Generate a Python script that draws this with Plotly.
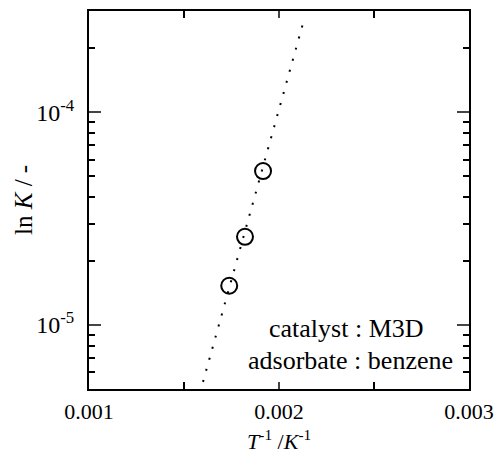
import plotly.graph_objects as go
import numpy as np

# data
inv_T = [0.001738, 0.001821, 0.001916]
K_vals = [1.53e-5, 2.6e-5, 5.3e-5]
fit_x = [0.001600, 0.002125]
fit_y = [5.4e-6, 2.6e-4]

x_tickvals = [0.001, 0.002, 0.003]
x_ticktext = ["0.001", "0.002", "0.003"]
x_minor = [0.0015, 0.0025]
y_tickvals = [1e-5, 1e-4]
y_ticktext = ["10<sup>-5</sup>", "10<sup>-4</sup>"]
y_minor = [6e-6, 7e-6, 8e-6, 9e-6] + [k * 1e-5 for k in range(2, 10)] + [2e-4]

FONT = "Liberation Serif"

fig = go.Figure()
fig.add_trace(go.Scatter(x=fit_x, y=fit_y, mode="lines",
                         line=dict(color="black", width=2, dash="2px,9.5px"),
                         showlegend=False, hoverinfo="skip"))
fig.add_trace(go.Scatter(x=inv_T, y=K_vals, mode="markers",
                         marker=dict(symbol="circle-open", size=16, color="black",
                                     line=dict(width=2, color="black")),
                         showlegend=False))

fig.update_layout(
    width=504, height=455,
    margin=dict(l=89, r=35, t=9, b=66),
    paper_bgcolor="white", plot_bgcolor="white",
    font=dict(family=FONT, size=24, color="black"),
    xaxis=dict(range=[0.001, 0.003], tickmode="array", tickvals=x_tickvals,
               ticktext=x_ticktext, ticks="inside", ticklen=7, tickwidth=1.5,
               minor=dict(tickvals=x_minor, ticks="inside", ticklen=7, tickwidth=1.5,
                          tickcolor="black"),
               showline=True, linewidth=2, linecolor="black", mirror="ticks",
               showgrid=False, zeroline=False, tickfont=dict(size=22),
               ticklabelstandoff=2),
    yaxis=dict(type="log", range=[np.log10(5e-6), np.log10(3e-4)],
               tickmode="array", tickvals=y_tickvals, ticktext=y_ticktext,
               ticks="inside", ticklen=12, tickwidth=1.5,
               minor=dict(tickvals=y_minor, ticks="inside", ticklen=6, tickwidth=1.5,
                          tickcolor="black"),
               showline=True, linewidth=2, linecolor="black", mirror="ticks",
               showgrid=False, zeroline=False, tickfont=dict(size=24),
               ticklabelstandoff=8),
)

fig.add_annotation(text="ln <i>K</i> / -", xref="paper", yref="paper",
                   x=(23 - 89) / 380, y=0.5, textangle=-90, showarrow=False,
                   font=dict(size=25), xanchor="center", yanchor="middle")
fig.add_annotation(text="<i>T</i><sup>-1</sup> /<i>K</i><sup>-1</sup>", xref="paper", yref="paper",
                   x=0.5, y=-(440 - 389) / 380, showarrow=False, borderpad=0,
                   font=dict(size=22), xanchor="center", yanchor="middle")
fig.add_annotation(text="catalyst : M3D", xref="paper", yref="paper",
                   x=(346 - 89) / 380, y=(389 - 328) / 380, showarrow=False,
                   font=dict(size=26), xanchor="center", yanchor="middle")
fig.add_annotation(text="adsorbate : benzene", xref="paper", yref="paper",
                   x=(350 - 89) / 380, y=(389 - 360) / 380, showarrow=False,
                   font=dict(size=26), xanchor="center", yanchor="middle")

fig.write_html("out.html")
